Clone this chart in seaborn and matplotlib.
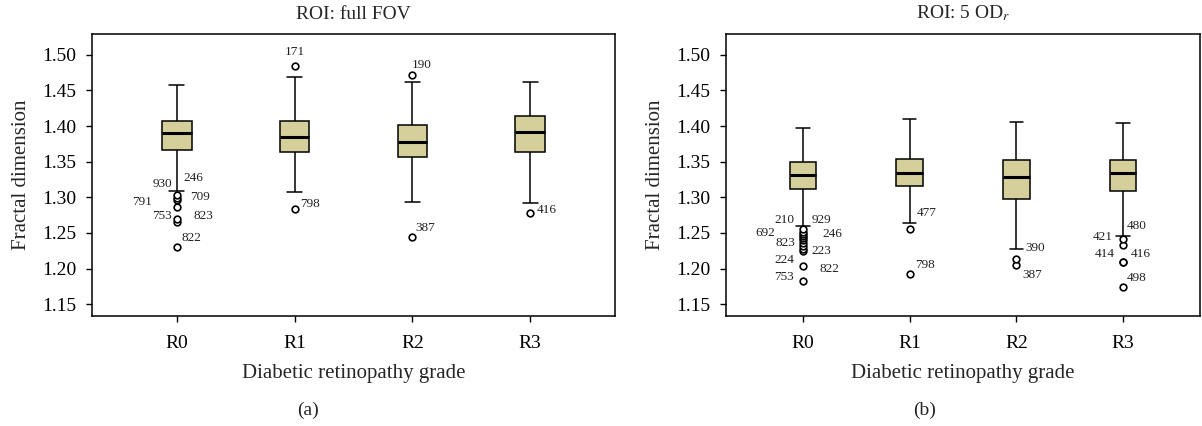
import matplotlib
matplotlib.use("Agg")
import matplotlib.pyplot as plt
import numpy as np
import pandas as pd
import seaborn as sns

# ---------------- data ----------------
grades = ["R0", "R1", "R2", "R3"]

# Panel (a) ROI: full FOV  (five-number summaries)
a_whislo = [1.309, 1.308, 1.2935, 1.292]
a_q1 = [1.367, 1.3633, 1.3563, 1.3633]
a_med = [1.390, 1.385, 1.378, 1.392]
a_q3 = [1.407, 1.407, 1.401, 1.414]
a_whishi = [1.458, 1.4696, 1.4625, 1.4625]
a_outliers = [
    [1.3034, 1.2996, 1.2959, 1.2869, 1.2692, 1.2654, 1.2299],
    [1.485, 1.2837],
    [1.4715, 1.2444],
    [1.278],
]
# (group, outlier index, label, dx px, dy px, ha)
a_labels = [
    (0, 0, "930", -5, 11, "right"),
    (0, 0, "246", 7, 17, "left"),
    (0, 1, "791", -25, -4, "right"),
    (0, 0, "709", 13, -2, "left"),
    (0, 4, "753", -5, 3, "right"),
    (0, 5, "823", 17, 6, "left"),
    (0, 6, "822", 5, 9, "left"),
    (1, 0, "171", 0, 14, "center"),
    (1, 1, "798", 6, 5, "left"),
    (2, 0, "190", -1, 10, "left"),
    (2, 1, "387", 3, 9, "left"),
    (3, 0, "416", 7, 3, "left"),
]

# Panel (b) ROI: 5 OD_r
b_whislo = [1.260, 1.264, 1.228, 1.2453]
b_q1 = [1.312, 1.3157, 1.298, 1.309]
b_med = [1.331, 1.334, 1.329, 1.334]
b_q3 = [1.349, 1.354, 1.352, 1.353]
b_whishi = [1.397, 1.410, 1.406, 1.405]
b_outliers = [
    [1.255, 1.252, 1.249, 1.246, 1.243, 1.240, 1.236, 1.232, 1.228, 1.225, 1.204, 1.182],
    [1.256, 1.1925],
    [1.214, 1.2046],
    [1.2417, 1.2337, 1.209, 1.209, 1.174],
]
b_labels = [
    (0, 0, "210", -8, 9, "right"),
    (0, 0, "929", 9, 9, "left"),
    (0, 2, "692", -28, 1, "right"),
    (0, 2, "246", 20, 0, "left"),
    (0, 6, "823", -8, 0, "right"),
    (0, 9, "223", 9, 0, "left"),
    (0, 10, "224", -9, 6, "right"),
    (0, 10, "822", 17, -3, "left"),
    (0, 11, "753", -9, 4, "right"),
    (1, 0, "477", 7, 16, "left"),
    (1, 1, "798", 6, 9, "left"),
    (2, 0, "390", 9, 11, "left"),
    (2, 1, "387", 6, -10, "left"),
    (3, 0, "480", 4, 13, "left"),
    (3, 0, "421", -10, 2, "right"),
    (3, 2, "414", -8, 8, "right"),
    (3, 3, "416", 8, 8, "left"),
    (3, 4, "498", 4, 9, "left"),
]

yticks = [1.15, 1.20, 1.25, 1.30, 1.35, 1.40, 1.45, 1.50]


def expand(lo, q1, med, q3, hi, outs):
    """Sample whose Tukey box statistics equal the given summary."""
    low_out = sorted(o for o in outs if o < q1)
    high_out = sorted(o for o in outs if o > q3)
    k = max(len(low_out) + 1, len(high_out) + 1)
    lower = low_out + [lo] * (k - len(low_out))
    upper = [hi] * (k - len(high_out)) + high_out
    return lower + [q1] * k + [med] * k + [q3] + upper


def frame(whislo, q1, med, q3, whishi, outliers):
    rows = []
    for g, lo, a, m, b, hi, outs in zip(grades, whislo, q1, med, q3, whishi, outliers):
        for v in expand(lo, a, m, b, hi, outs):
            rows.append((g, v))
    return pd.DataFrame(rows, columns=["grade", "fd"])


# ---------------- style ----------------
sns.set_style("ticks")
plt.rcParams["font.family"] = ["Liberation Serif", "DejaVu Serif"]
plt.rcParams["mathtext.fontset"] = "stix"
plt.rcParams["axes.linewidth"] = 1.1
plt.rcParams["xtick.major.size"] = 4
plt.rcParams["ytick.major.size"] = 4
plt.rcParams["xtick.major.width"] = 1.0
plt.rcParams["ytick.major.width"] = 1.0
plt.rcParams["xtick.color"] = "black"
plt.rcParams["ytick.color"] = "black"
plt.rcParams["axes.edgecolor"] = "black"

BOX = "#d5d09b"

fig = plt.figure(figsize=(12.02, 4.26), dpi=100)
W, H = 1202, 426
ax1 = fig.add_axes([92 / W, 1 - 316 / H, (615 - 92) / W, (316 - 34) / H])
ax2 = fig.add_axes([726 / W, 1 - 316 / H, (1200 - 726) / W, (316 - 34) / H])

panels = [
    (ax1, frame(a_whislo, a_q1, a_med, a_q3, a_whishi, a_outliers), a_outliers, a_labels, "ROI: full FOV"),
    (ax2, frame(b_whislo, b_q1, b_med, b_q3, b_whishi, b_outliers), b_outliers, b_labels, r"ROI: 5 OD$_r$"),
]

for ax, df, outs, labels, title in panels:
    sns.boxplot(
        data=df, x="grade", y="fd", order=grades, ax=ax,
        width=0.25, color=BOX, saturation=1, linecolor="black", linewidth=1.1,
        fliersize=4.8,
        flierprops=dict(marker="o", markerfacecolor="white", markeredgecolor="black",
                        markeredgewidth=1.2),
        medianprops=dict(linewidth=2.2, color="black"),
    )
    for g, i, txt, dx, dy, ha in labels:
        ax.annotate(txt, xy=(g, outs[g][i]), xytext=(dx, dy), textcoords="offset pixels",
                    ha=ha, va="center", fontsize=9.5, color="#222222")
    ax.set_xlim(-0.72, 3.72)
    ax.set_ylim(1.1335, 1.5293)
    ax.set_yticks(yticks)
    ax.set_yticklabels([f"{t:.2f}" for t in yticks])
    for s in ax.spines.values():
        s.set_visible(True)
        s.set_color("black")
        s.set_linewidth(1.1)
    ax.tick_params(labelsize=14, colors="black")
    ax.tick_params(axis="x", pad=9.5)
    ax.tick_params(axis="y", pad=7.5)
    ax.set_xlabel("Diabetic retinopathy grade", fontsize=15, labelpad=9)
    ax.set_ylabel("Fractal dimension", fontsize=15, labelpad=8)
    ax.set_title(title, fontsize=14, pad=11)

fig.text(308 / W, 1 - 410 / H, "(a)", ha="center", va="center", fontsize=14)
fig.text(925 / W, 1 - 410 / H, "(b)", ha="center", va="center", fontsize=14)

fig.savefig("out.png", dpi=100, facecolor="white")
